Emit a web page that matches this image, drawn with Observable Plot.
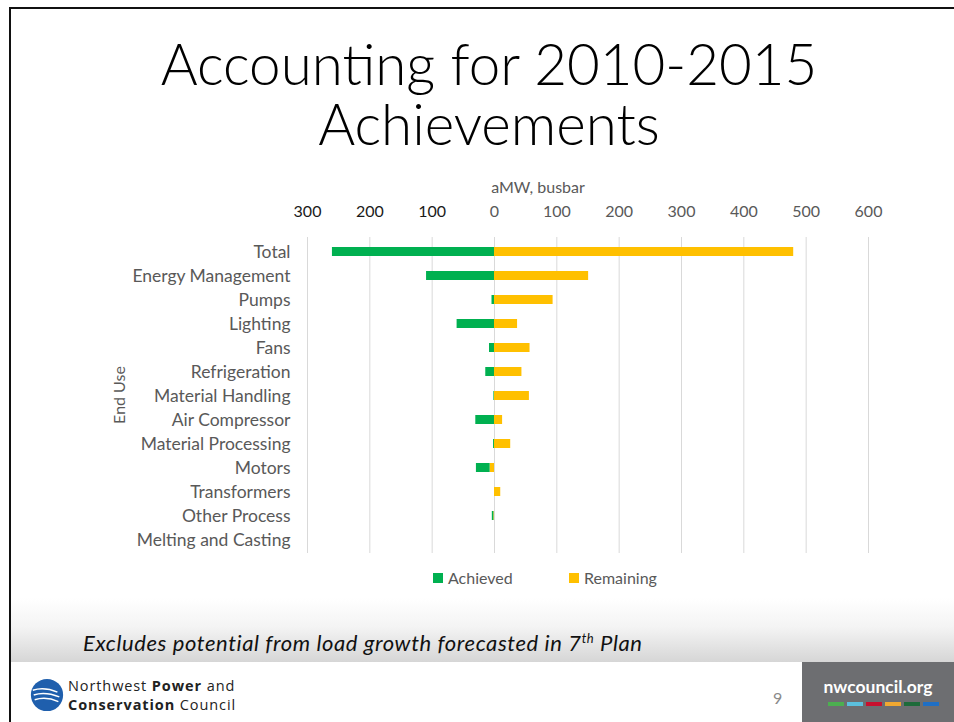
<!DOCTYPE html>
<html>
<head>
<meta charset="utf-8">
<script src="https://cdn.jsdelivr.net/npm/d3@7"></script>
<script src="https://cdn.jsdelivr.net/npm/@observablehq/plot@0.6"></script>
<style>
  html, body { margin: 0; padding: 0; background: #fff; }
  #slide { position: relative; width: 954px; height: 722px; overflow: hidden; font-family: Lato, "Open Sans", sans-serif; background: #fff; }
  .abs { position: absolute; }
  #borderTop { left: 9px; top: 7px; width: 945px; height: 2px; background: #111; }
  #borderLeft { left: 9px; top: 7px; width: 2px; height: 715px; background: #111; }
  .title { left: 0; width: 978px; text-align: center; font-size: 56.5px; font-weight: 300; line-height: 56px; color: #000; white-space: nowrap; }
  #xlabel { left: 438px; width: 200px; top: 177px; text-align: center; font-size: 16px; color: #595959; }
  #ylabel { left: 118px; top: 395px; transform: translate(-50%,-50%) rotate(-90deg); font-size: 16px; color: #595959; white-space: nowrap; }
  #chart { left: 0; top: 159px; }
  #legend { top: 568px; left: 0; width: 954px; height: 20px; font-size: 16px; color: #595959; }
  .sw { position: absolute; width: 10px; height: 10px; top: 5px; }
  .lt { position: absolute; top: 0; }
  #band { left: 11px; top: 598px; width: 943px; height: 64px; background: linear-gradient(to bottom, #ffffff 0%, #f4f4f4 45%, #d6d6d6 100%); }
  #note { left: 83px; top: 629px; font-size: 22px; letter-spacing: 0.6px; font-style: italic; color: #111; white-space: nowrap; }
  #note sup { font-size: 13px; }
  #gray { left: 802px; top: 662px; width: 152px; height: 60px; background: #6d6e71; }
  #nw { left: 802px; width: 152px; top: 676px; text-align: center; color: #fff; font-weight: 700; font-size: 17.5px; }
  #page { left: 773px; top: 688px; font-size: 16px; color: #8a8a8a; }
  .logoLine { font-size: 14.5px; letter-spacing: 0.9px; color: #222; font-family: "Open Sans", sans-serif; white-space: nowrap; line-height: 17px; }
</style>
</head>
<body>
<div id="slide">
  <div class="abs" id="band"></div>
  <div class="abs" id="borderTop"></div>
  <div class="abs" id="borderLeft"></div>
  <div class="abs title" style="top:35px">Accounting for 2010-2015</div>
  <div class="abs title" style="top:95px">Achievements</div>
  <div class="abs" id="xlabel">aMW, busbar</div>
  <div class="abs" id="ylabel">End Use</div>
  <div class="abs" id="chart"></div>
  <div class="abs" id="legend">
    <div class="sw" style="left:433px;background:#00b050"></div><div class="lt" style="left:448px">Achieved</div>
    <div class="sw" style="left:569px;background:#ffc000"></div><div class="lt" style="left:584px">Remaining</div>
  </div>
  <div class="abs" id="note">Excludes potential from load growth forecasted in 7<sup>th</sup> Plan</div>
  <svg class="abs" style="left:29px;top:677px" width="36" height="36" viewBox="0 0 38 38">
    <circle cx="19" cy="19" r="17" fill="#1f5fad"/>
    <path d="M4 14 Q16 10 30 16 M5 19 Q17 15 32 21 M6 24 Q18 20 31 26" stroke="#fff" stroke-width="1.6" fill="none"/>
  </svg>
  <div class="abs logoLine" style="left:68px;top:677px">Northwest <b>Power</b> and</div>
  <div class="abs logoLine" style="left:68px;top:696px"><b>Conservation</b> Council</div>
  <div class="abs" id="page">9</div>
  <div class="abs" id="gray"></div>
  <div class="abs" id="nw">nwcouncil.org</div>
  <svg class="abs" style="left:828px;top:702px" width="114" height="5">
    <rect x="0" y="0" width="16" height="4" fill="#4caf50"/>
    <rect x="19" y="0" width="16" height="4" fill="#5bc0de"/>
    <rect x="38" y="0" width="16" height="4" fill="#c8102e"/>
    <rect x="57" y="0" width="16" height="4" fill="#f0a830"/>
    <rect x="76" y="0" width="16" height="4" fill="#1e6b3a"/>
    <rect x="95" y="0" width="16" height="4" fill="#1f6fc5"/>
  </svg>
</div>
<script>
const categories = ["Total","Energy Management","Pumps","Lighting","Fans","Refrigeration","Material Handling","Air Compressor","Material Processing","Motors","Transformers","Other Process","Melting and Casting"];
const achieved  = [-260, -109, -4, -60, -8, -14, -1, -30, -1.5, -22, 0, -2.5, 0];
const remaining = [480, 151, 94, 37, 57, 44, 56, 13, 26, -7, 10, -1, 0];
const seriesNames = ["Achieved", "Remaining"];
const seriesColors = ["#00b050", "#ffc000"];
const negTicks = [-300, -200, -100];
const posTicks = [0, 100, 200, 300, 400, 500, 600];

// Remaining first so it stacks next to zero when negative
const rows = [
  ...categories.map((c, i) => ({category: c, series: "Remaining", value: remaining[i]})),
  ...categories.map((c, i) => ({category: c, series: "Achieved", value: achieved[i]}))
];

const chart = Plot.plot({
  width: 954,
  height: 404,
  marginLeft: 307,
  marginRight: 86,
  marginTop: 78,
  marginBottom: 10,
  style: {fontFamily: "Lato, 'Open Sans', sans-serif", fontSize: "16px", color: "#595959", background: "transparent"},
  x: {domain: [-300, 600]},
  y: {domain: categories, paddingInner: 0.63, paddingOuter: 0.315},
  color: {domain: seriesNames, range: seriesColors},
  marks: [
    Plot.gridX([...negTicks, ...posTicks], {stroke: "#d9d9d9", strokeOpacity: 1, strokeWidth: 1}),
    Plot.barX(rows, Plot.stackX({x: "value", y: "category", fill: "series", order: null})),
    Plot.axisX({anchor: "top", ticks: negTicks, tickSize: 0, tickPadding: 21, tickFormat: d => Math.abs(d), label: null, color: "#1a1a1a"}),
    Plot.axisX({anchor: "top", ticks: posTicks, tickSize: 0, tickPadding: 21, tickFormat: d => Math.abs(d), label: null, color: "#595959"}),
    Plot.axisY({tickSize: 0, tickPadding: 17, label: null, color: "#595959", fontSize: 17.5})
  ]
});
document.getElementById("chart").appendChild(chart);
</script>
</body>
</html>
